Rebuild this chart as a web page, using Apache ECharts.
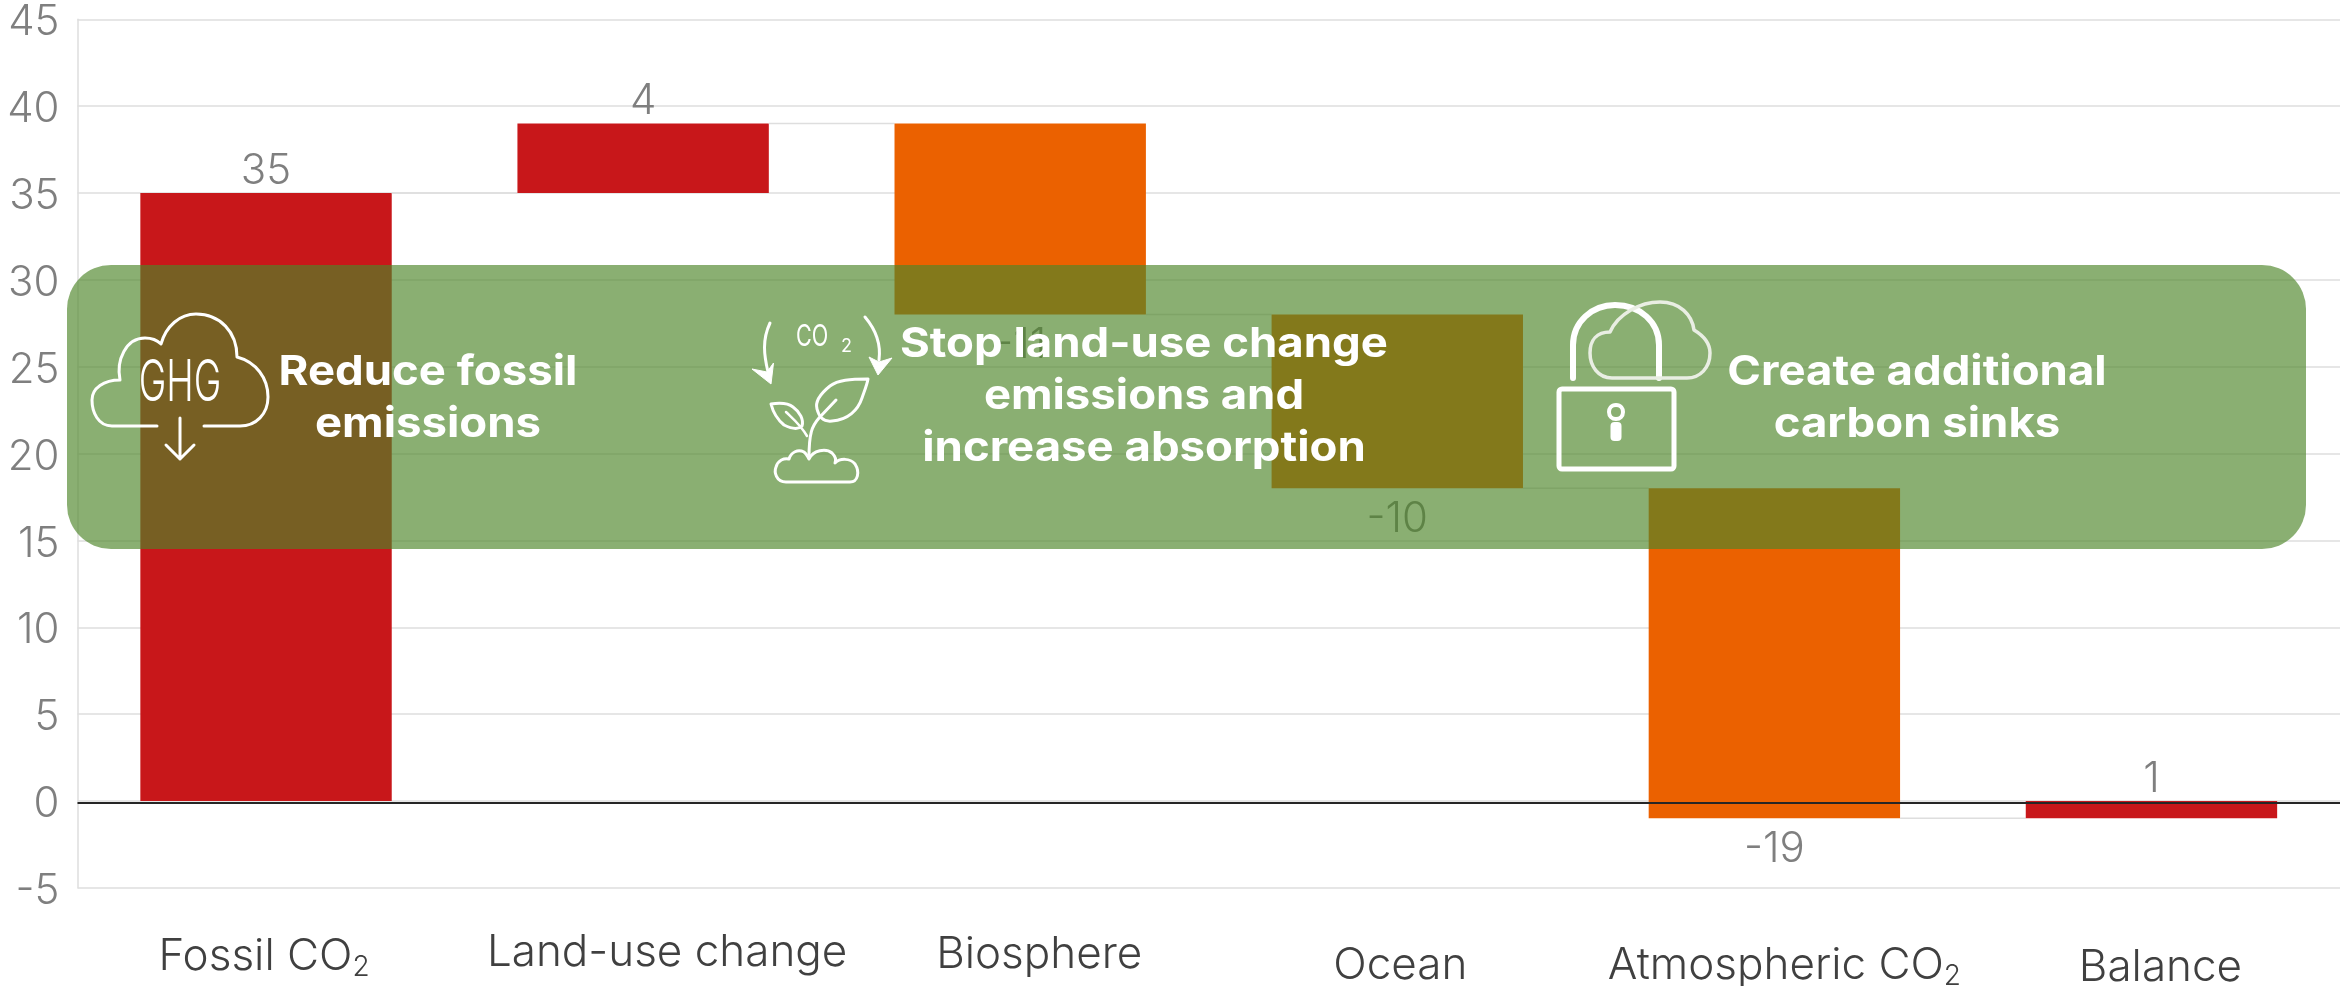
<!DOCTYPE html>
<html><head><meta charset="utf-8">
<style>html,body{margin:0;padding:0;background:#fff}#c{width:2340px;height:986px}</style>
<script src="https://cdn.jsdelivr.net/npm/echarts@6/dist/echarts.min.js"></script>
</head><body><div id="c"></div>
<script>
const categories = ['Fossil CO', 'Land-use change', 'Biosphere', 'Ocean', 'Atmospheric CO', 'Balance'];
const subscripts = ['2', '', '', '', '2', ''];
const barStarts = [0, 35, 39, 28, 18, 0];
const barEnds = [35, 39, 28, 18, -1, -1];
const valueLabels = ['35', '4', '-11', '-10', '-19', '1'];
const barColors = ['#C8171A', '#C8171A', '#EB6100', '#EB6100', '#EB6100', '#C8171A'];
const yTicks = {min: -5, max: 45, interval: 5};

const labelShift = [-2, 24, 19, 3, 10, 9];
const labelDrop = [9, 1, 6, 28, 28, 31];
const LIGHT = 'Inter';
const catStyles = {};
categories.forEach((c, i) => {
  const pl = Math.max(0, labelShift[i] * 2), pr = Math.max(0, -labelShift[i] * 2);
  catStyles['m' + i] = {fontFamily: LIGHT, fontWeight: 300, fontSize: 44, color: '#404040', lineHeight: 44, padding: [labelDrop[i], 0, 0, pl]};
  catStyles['s' + i] = {fontFamily: LIGHT, fontWeight: 300, fontSize: 28, color: '#404040', lineHeight: 44, padding: [labelDrop[i] + 22, pr, 0, 0]};
});

let iconCount = 0;
function iconShape(d) {
  const name = 'iconShape' + (iconCount++);
  echarts.graphic.registerShape(name, echarts.graphic.extendPath(d));
  return name;
}
function icon(d, w, stroke) {
  return {type: iconShape(d), z: 110, silent: true,
    style: {fill: 'none', stroke: stroke || '#fff', lineWidth: w, lineCap: 'round', lineJoin: 'round'}};
}
function solid(d) {
  return {type: iconShape(d), z: 110, silent: true, style: {fill: '#fff', stroke: '#fff', lineWidth: 1}};
}
function head(text, x, y) {
  return {type: 'text', z: 120, x: x, y: y, scaleX: 1.11, silent: true,
    style: {text: text, fill: '#fff', font: '700 41px Inter', lineHeight: 52, textAlign: 'center', textVerticalAlign: 'middle'}};
}
const graphics = [
  {type: 'rect', z: 100, silent: true, shape: {x: 67, y: 265, width: 2239, height: 284, r: 44}, style: {fill: 'rgba(78,134,41,0.66)'}},
  head('Reduce fossil\nemissions', 428, 399),
  head('Stop land-use change\nemissions and\nincrease absorption', 1144, 397),
  head('Create additional\ncarbon sinks', 1917, 399),
  // GHG cloud
  icon('M157 426 L112 426 C98 426 92 412 92 400 C92 388 104 380 120 380 C116 360 126 338 145 338 C152 338 157 340 161 344 C166 326 180 314 196 314 C220 314 237 332 237 357 C256 362 268 378 268 397 C268 414 256 426 240 426 L204 426', 3),
  icon('M180 418 L180 459 M166 445 L180 459 L194 445', 3),
  {type: 'text', z: 110, x: 180, y: 384, scaleX: 0.64, silent: true,
    style: {text: 'GHG', fill: '#fff', font: '300 58px Inter', textAlign: 'center', textVerticalAlign: 'middle'}},
  // sprout
  icon('M770 323 C762 340 764 355 768 372', 3),
  solid('M752 369 L771 384 L773.5 363 L767 372 Z'),
  icon('M865 317 C876 330 881 345 879 360', 3),
  solid('M869 357 L878 375 L892 358 L879 362 Z'),
  {type: 'text', z: 110, x: 796, y: 337, silent: true, scaleX: 0.72,
    style: {text: 'CO', fill: '#fff', font: '400 30px Inter', textAlign: 'left', textVerticalAlign: 'middle'}},
  {type: 'text', z: 110, x: 841, y: 347, silent: true,
    style: {text: '2', fill: '#fff', font: '400 18px Inter', textAlign: 'left', textVerticalAlign: 'middle'}},
  icon('M868 379 C850 379 838 380 830 386 C820 394 815 402 817 409 C819 417 824 422 832 421 C848 420 858 410 862 398 C864 392 867 385 868 379 Z', 3),
  icon('M836 400 L819 418 C812 426 809 433 809 458', 3),
  icon('M771 404 C778 403 788 403 793 407 C800 412 804 420 802 426 C798 430 790 428 784 425 C778 420 773 412 771 404 Z', 3),
  icon('M786 412 C792 418 800 424 807 436', 2.5),
  icon('M786 482 C776 482 774 472 776 467 C778 460 784 458 789 459 C791 452 798 449 804 452 C808 455 808 458 809 459 C813 450 826 448 832 453 C836 457 836 461 835 463 C840 458 850 458 855 464 C860 472 858 482 850 482 Z', 3),
  // padlock
  {type: 'rect', z: 110, silent: true, shape: {x: 1559, y: 389, width: 115, height: 80, r: 3}, style: {fill: 'none', stroke: '#fff', lineWidth: 5}},
  icon('M1573 378 L1573 345 C1573 322 1592 305 1615 305 C1640 305 1659 322 1659 345 L1659 378', 6),
  icon('M1590 353 C1590 340 1597 332 1610 332 C1618 314 1640 302 1660 302 C1680 302 1692 315 1694 330 C1704 336 1710 344 1710 353 C1710 368 1700 378 1687 378 L1612 378 C1598 378 1590 366 1590 353', 3.5, '#e9eee3'),
  icon('M1616 405 C1611 405 1609 409 1609 412 C1609 416 1612 419 1616 419 C1620 419 1623 416 1623 412 C1623 409 1621 405 1616 405 Z', 4),
  {type: 'rect', z: 110, silent: true, shape: {x: 1610.5, y: 422, width: 11, height: 19, r: 4}, style: {fill: '#fff'}}
];

const chart = echarts.init(document.getElementById('c'), null, {renderer: 'canvas'});
chart.setOption({
  animation: false,
  backgroundColor: '#fff',
  grid: {left: 77.5, right: 0, top: 19.3, height: 868.5, containLabel: false, outerBoundsMode: 'none'},
  xAxis: {
    type: 'category', data: categories,
    axisLine: {show: false}, axisTick: {show: false}, splitLine: {show: false},
    axisLabel: {
      interval: 0, margin: 42, verticalAlign: 'top', hideOverlap: false,
      rich: catStyles,
      formatter: (v, i) => `{m${i}|${v}}` + (subscripts[i] ? `{s${i}|${subscripts[i]}}` : '')
    }
  },
  yAxis: {
    type: 'value', min: yTicks.min, max: yTicks.max, interval: yTicks.interval,
    axisLine: {show: true, onZero: false, lineStyle: {color: '#dedede', width: 1.5}},
    axisTick: {show: false},
    axisLabel: {
      margin: 18, formatter: '{t|{value}}',
      rich: {t: {fontFamily: LIGHT, fontWeight: 300, fontSize: 42, color: '#7f7f7f', lineHeight: 44, padding: [7, 0, 0, 0]}}
    },
    splitLine: {show: true, lineStyle: {color: '#dedede', width: 1.5}}
  },
  series: [{
    type: 'custom',
    z: 3,
    data: categories.map((c, i) => [i, barStarts[i], barEnds[i]]),
    encode: {x: 0, y: [1, 2]},
    clip: false,
    renderItem(params, api) {
      const i = api.value(0), s = api.value(1), e = api.value(2);
      const band = api.size([1, 0])[0], w = band * 2 / 3;
      const cx = api.coord([i, 0])[0];
      const hi = api.coord([i, Math.max(s, e)])[1], lo = api.coord([i, Math.min(s, e)])[1];
      const above = parseFloat(valueLabels[i]) > 0;
      const kids = [
        {type: 'rect', shape: {x: cx - w / 2, y: hi, width: w, height: lo - hi}, style: {fill: barColors[i]}},
        {type: 'text', x: cx, y: above ? hi - 22 : lo + 31,
          style: {text: valueLabels[i], fill: '#7f7f7f', font: '300 42px Inter', textAlign: 'center', textVerticalAlign: 'middle'}}
      ];
      if (i < categories.length - 1) {
        const y = api.coord([i, e])[1];
        kids.push({type: 'line', shape: {x1: cx + w / 2, y1: y, x2: cx + band - w / 2, y2: y}, style: {stroke: '#dedede', lineWidth: 1.5}});
      }
      return {type: 'group', children: kids};
    },
    markLine: {
      silent: true, symbol: 'none', label: {show: false}, z: 5,
      lineStyle: {color: '#262626', width: 2, type: 'solid'},
      data: [{yAxis: -0.118}]
    }
  }],
  graphic: {elements: graphics}
});
</script></body></html>
